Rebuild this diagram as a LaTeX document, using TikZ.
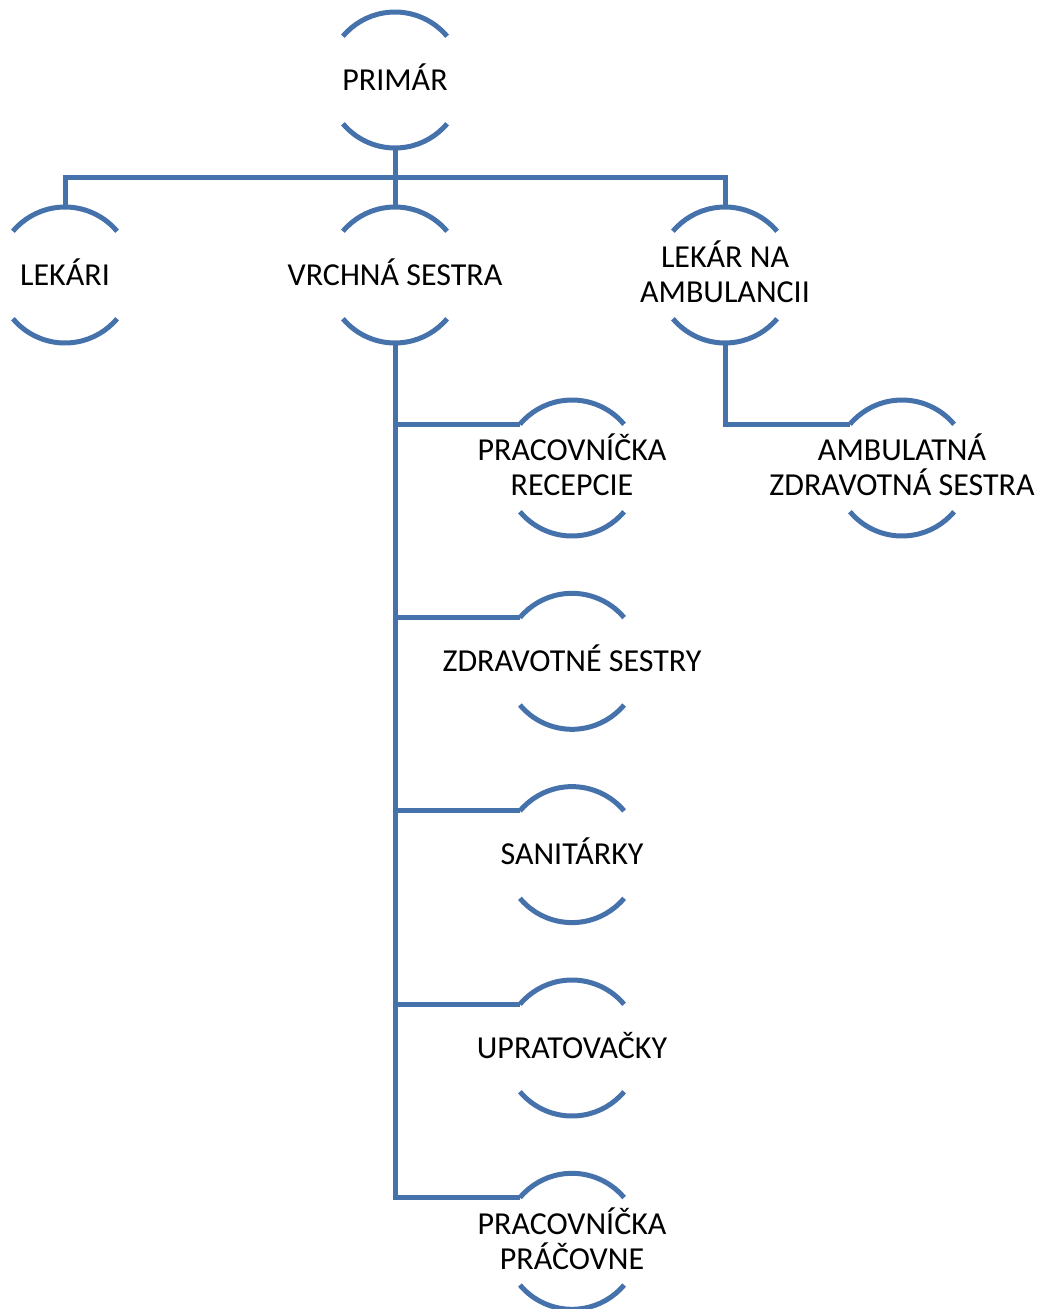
\documentclass[tikz,border=0pt]{standalone}
\usepackage{fontspec}
\setmainfont{Carlito}
\definecolor{arcblue}{HTML}{4672AC}
\newcommand\twol[2]{\begin{tabular}[t]{@{}c@{}}\smash{#1}\\\smash{#2}\end{tabular}}
\begin{document}
\begin{tikzpicture}[x=1pt,y=1pt,
  ln/.style={draw=arcblue,line width=5pt},
  hub/.style={circle,minimum size=136pt,inner sep=0pt,outer sep=0pt},
  lbl/.style={anchor=base,inner sep=0pt,font=\fontsize{32}{35}\selectfont},
]
\useasboundingbox (0,0) rectangle (1040,-1309);
% circle centres
\node[hub] (primar) at (395,-80) {};
\node[hub] (lekari) at (65,-275) {};
\node[hub] (vrchna) at (395,-275) {};
\node[hub] (lekamb) at (725,-275) {};
\node[hub] (recep) at (572,-468) {};
\node[hub] (zdrav) at (572,-661.3) {};
\node[hub] (sanit) at (572,-854.6) {};
\node[hub] (uprat) at (572,-1048) {};
\node[hub] (pracov) at (572,-1241.3) {};
\node[hub] (ambzs) at (902,-468) {};
% arcs
\foreach \n in {primar,lekari,vrchna,lekamb,recep,zdrav,sanit,uprat,pracov,ambzs}{
  \draw[ln] (\n.40) arc[start angle=40,end angle=140,radius=68pt];
  \draw[ln] (\n.220) arc[start angle=220,end angle=320,radius=68pt];
}
% labels (single line: baseline below centre; two lines: first baseline above centre)
\node[lbl] (primar-t) at ([yshift=-10.3pt]primar.center) {PRIMÁR};
\node[lbl] (lekari-t) at ([yshift=-10.3pt]lekari.center) {LEKÁRI};
\node[lbl] (vrchna-t) at ([yshift=-10.3pt]vrchna.center) {VRCHNÁ SESTRA};
\node[lbl] (lekamb-t) at ([yshift=7.2pt]lekamb.center) {\twol{LEKÁR NA}{AMBULANCII}};
\node[lbl] (recep-t) at ([yshift=7.2pt]recep.center) {\twol{PRACOVNÍČKA}{RECEPCIE}};
\node[lbl] (zdrav-t) at ([yshift=-10.3pt]zdrav.center) {ZDRAVOTNÉ SESTRY};
\node[lbl] (sanit-t) at ([yshift=-10.3pt]sanit.center) {SANITÁRKY};
\node[lbl] (uprat-t) at ([yshift=-10.3pt]uprat.center) {UPRATOVAČKY};
\node[lbl] (pracov-t) at ([yshift=7.2pt]pracov.center) {\twol{PRACOVNÍČKA}{PRÁČOVNE}};
\node[lbl] (ambzs-t) at ([yshift=7.2pt]ambzs.center) {\twol{AMBULATNÁ}{ZDRAVOTNÁ SESTRA}};
% connectors
\coordinate (bus) at ([yshift=-29.5pt]primar.south);
\draw[ln] (lekari.north) |- (bus) -| (lekamb.north);
\draw[ln] (primar.south) -- (vrchna.north);
\foreach \c in {recep,zdrav,sanit,uprat,pracov}{
  \draw[ln] (vrchna.south) |- (\c.140);
}
\draw[ln] (lekamb.south) |- (ambzs.140);
\end{tikzpicture}
\end{document}
